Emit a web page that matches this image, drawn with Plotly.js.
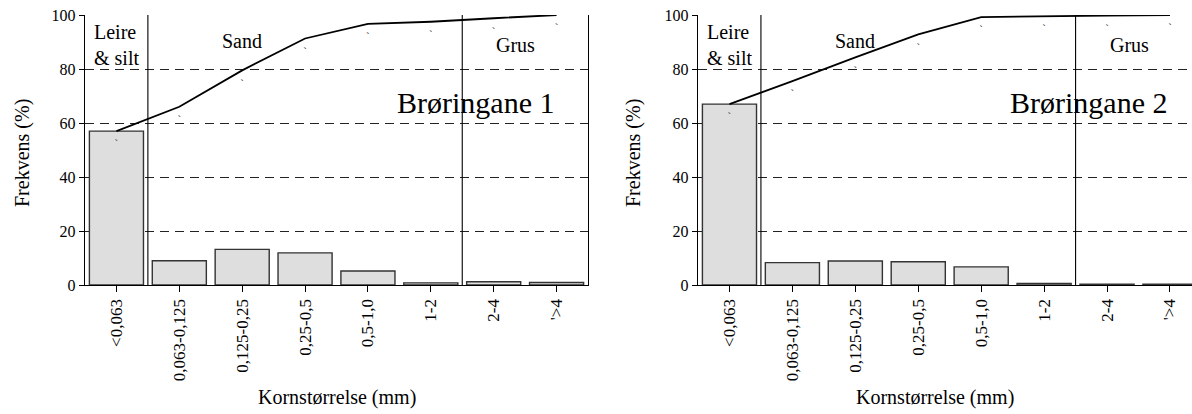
<!DOCTYPE html>
<html>
<head>
<meta charset="utf-8">
<script src="https://cdn.plot.ly/plotly-3.0.1.min.js"></script>
<style>
  html, body { margin: 0; padding: 0; background: #fff; }
  #chart { width: 1192px; height: 414px; }
</style>
</head>
<body>
<div id="chart"></div>
<script>
// Grain-size classes (mm)
const categories = ["<0,063", "0,063-0,125", "0,125-0,25", "0,25-0,5", "0,5-1,0", "1-2", "2-4", "'>4"];

// Brøringane 1: frequency per class and cumulative curve (%)
const freq1 = [57, 9.0, 13.2, 11.9, 5.2, 0.8, 1.2, 0.9];
const cum1 = [57, 66, 79.5, 91.3, 96.7, 97.5, 98.8, 100];

// Brøringane 2: frequency per class and cumulative curve (%)
const freq2 = [67, 8.3, 8.9, 8.6, 6.7, 0.6, 0.3, 0.3];
const cum2 = [67, 75.5, 84.3, 92.8, 99.2, 99.6, 99.8, 100];

const siteNames = ["Brøringane 1", "Brøringane 2"];
const yTicks = [0, 20, 40, 60, 80, 100];

const FONT = "Liberation Serif";
const W = 1192, H = 414;
const plotTop = 15, plotBottom = 285;

function barTrace(vals, xa, ya) {
  return {
    type: "bar", x: categories, y: vals, xaxis: xa, yaxis: ya,
    marker: { color: "#dedede", line: { color: "#333", width: 1.4 } },
    hoverinfo: "x+y", showlegend: false
  };
}
function cumTrace(vals, xa, ya) {
  return {
    type: "scatter", mode: "lines", x: categories, y: vals, xaxis: xa, yaxis: ya,
    line: { color: "#000", width: 1.8 }, showlegend: false
  };
}
// small tick marks drawn just under each point of the cumulative curve
function markTrace(vals, xa, ya) {
  return {
    type: "scatter", mode: "text", x: categories, y: vals, xaxis: xa, yaxis: ya,
    text: vals.map(() => "ˏ"), textposition: "bottom center",
    textfont: { family: "DejaVu Serif", size: 11, color: "#222" },
    cliponaxis: false, hoverinfo: "skip", showlegend: false
  };
}

const data = [
  barTrace(freq1, "x", "y"), cumTrace(cum1, "x", "y"), markTrace(cum1, "x", "y"),
  barTrace(freq2, "x2", "y2"), cumTrace(cum2, "x2", "y2"), markTrace(cum2, "x2", "y2")
];

function xAxis(domain, range, anchor) {
  return {
    domain: domain, range: range, type: "category", anchor: anchor,
    showline: true, linecolor: "#000", linewidth: 1.3,
    ticks: "outside", ticklen: 6, tickcolor: "#000", tickwidth: 1,
    tickangle: -90, tickfont: { family: FONT, size: 17, color: "#000" },
    showgrid: false, zeroline: false, fixedrange: true
  };
}
function yAxis(anchor, mirror) {
  return {
    anchor: anchor, domain: [0, 1], range: [0, 100],
    tickvals: yTicks, ticktext: yTicks.map(String),
    showline: true, mirror: mirror, linecolor: "#000", linewidth: 1.3,
    ticks: "outside", ticklen: 5, tickcolor: "#000", tickwidth: 1,
    tickfont: { family: FONT, size: 16, color: "#000" },
    showgrid: true, gridcolor: "#222", gridwidth: 1, griddash: "9px,6px",
    zeroline: false, fixedrange: true
  };
}

const px = v => v / W;
const py = v => (plotBottom - v) / (plotBottom - plotTop);

const annotations = [];
const shapes = [];
[["x", "y", px(85), px(588)], ["x2", "y2", px(698), 1]].forEach((ax, i) => {
  const [xa, ya, d0, d1] = ax;
  const txt = (text, x, y, size, opts) => annotations.push(Object.assign({
    text: text, x: x, y: y, xref: xa, yref: ya, showarrow: false,
    font: { family: FONT, size: size, color: "#000" }
  }, opts || {}));
  txt("Leire<br>& silt", 0, 89, 20, { xanchor: "center", yanchor: "middle", align: "left" });
  txt("Sand", 2, 90.3, 20, { yanchor: "middle" });
  txt("Grus", 6.35, 88.8, 20, { yanchor: "middle" });
  txt(siteNames[i], 7, 67.5, 30, { xanchor: "right", yanchor: "middle", xshift: -1 });

  // class boundaries: clay/silt | sand | gravel
  [0.5, 5.5].forEach(b => shapes.push({
    type: "line", xref: xa, yref: ya, x0: b, x1: b, y0: 0, y1: 100,
    line: { color: "#000", width: 1.1 }
  }));

  annotations.push({
    text: "Kornstørrelse (mm)", xref: "paper", yref: "paper",
    x: (d0 + d1) / 2 + (i === 1 ? -0.008 : 0), y: py(397), xanchor: "center", yanchor: "middle",
    showarrow: false, font: { family: FONT, size: 20, color: "#000" }
  });
  annotations.push({
    text: "Frekvens (%)", xref: "paper", yref: "paper", textangle: -90,
    x: px(i === 0 ? 22 : 633), y: py(153), xanchor: "center", yanchor: "middle",
    showarrow: false, font: { family: FONT, size: 20, color: "#000" }
  });
});

const layout = {
  width: W, height: H,
  margin: { l: 0, r: 0, t: plotTop, b: H - plotBottom, pad: 0 },
  paper_bgcolor: "#fff", plot_bgcolor: "rgba(0,0,0,0)",
  bargap: 0.14,
  xaxis: xAxis([px(85), px(588)], [-0.5, 7.5], "y"),
  yaxis: yAxis("x", true),
  xaxis2: xAxis([px(698), 1], [-0.5, 7.35], "y2"),
  yaxis2: yAxis("x2", false),
  annotations: annotations,
  shapes: shapes,
  showlegend: false
};

Plotly.newPlot("chart", data, layout, { displayModeBar: false, staticPlot: true });
</script>
</body>
</html>
